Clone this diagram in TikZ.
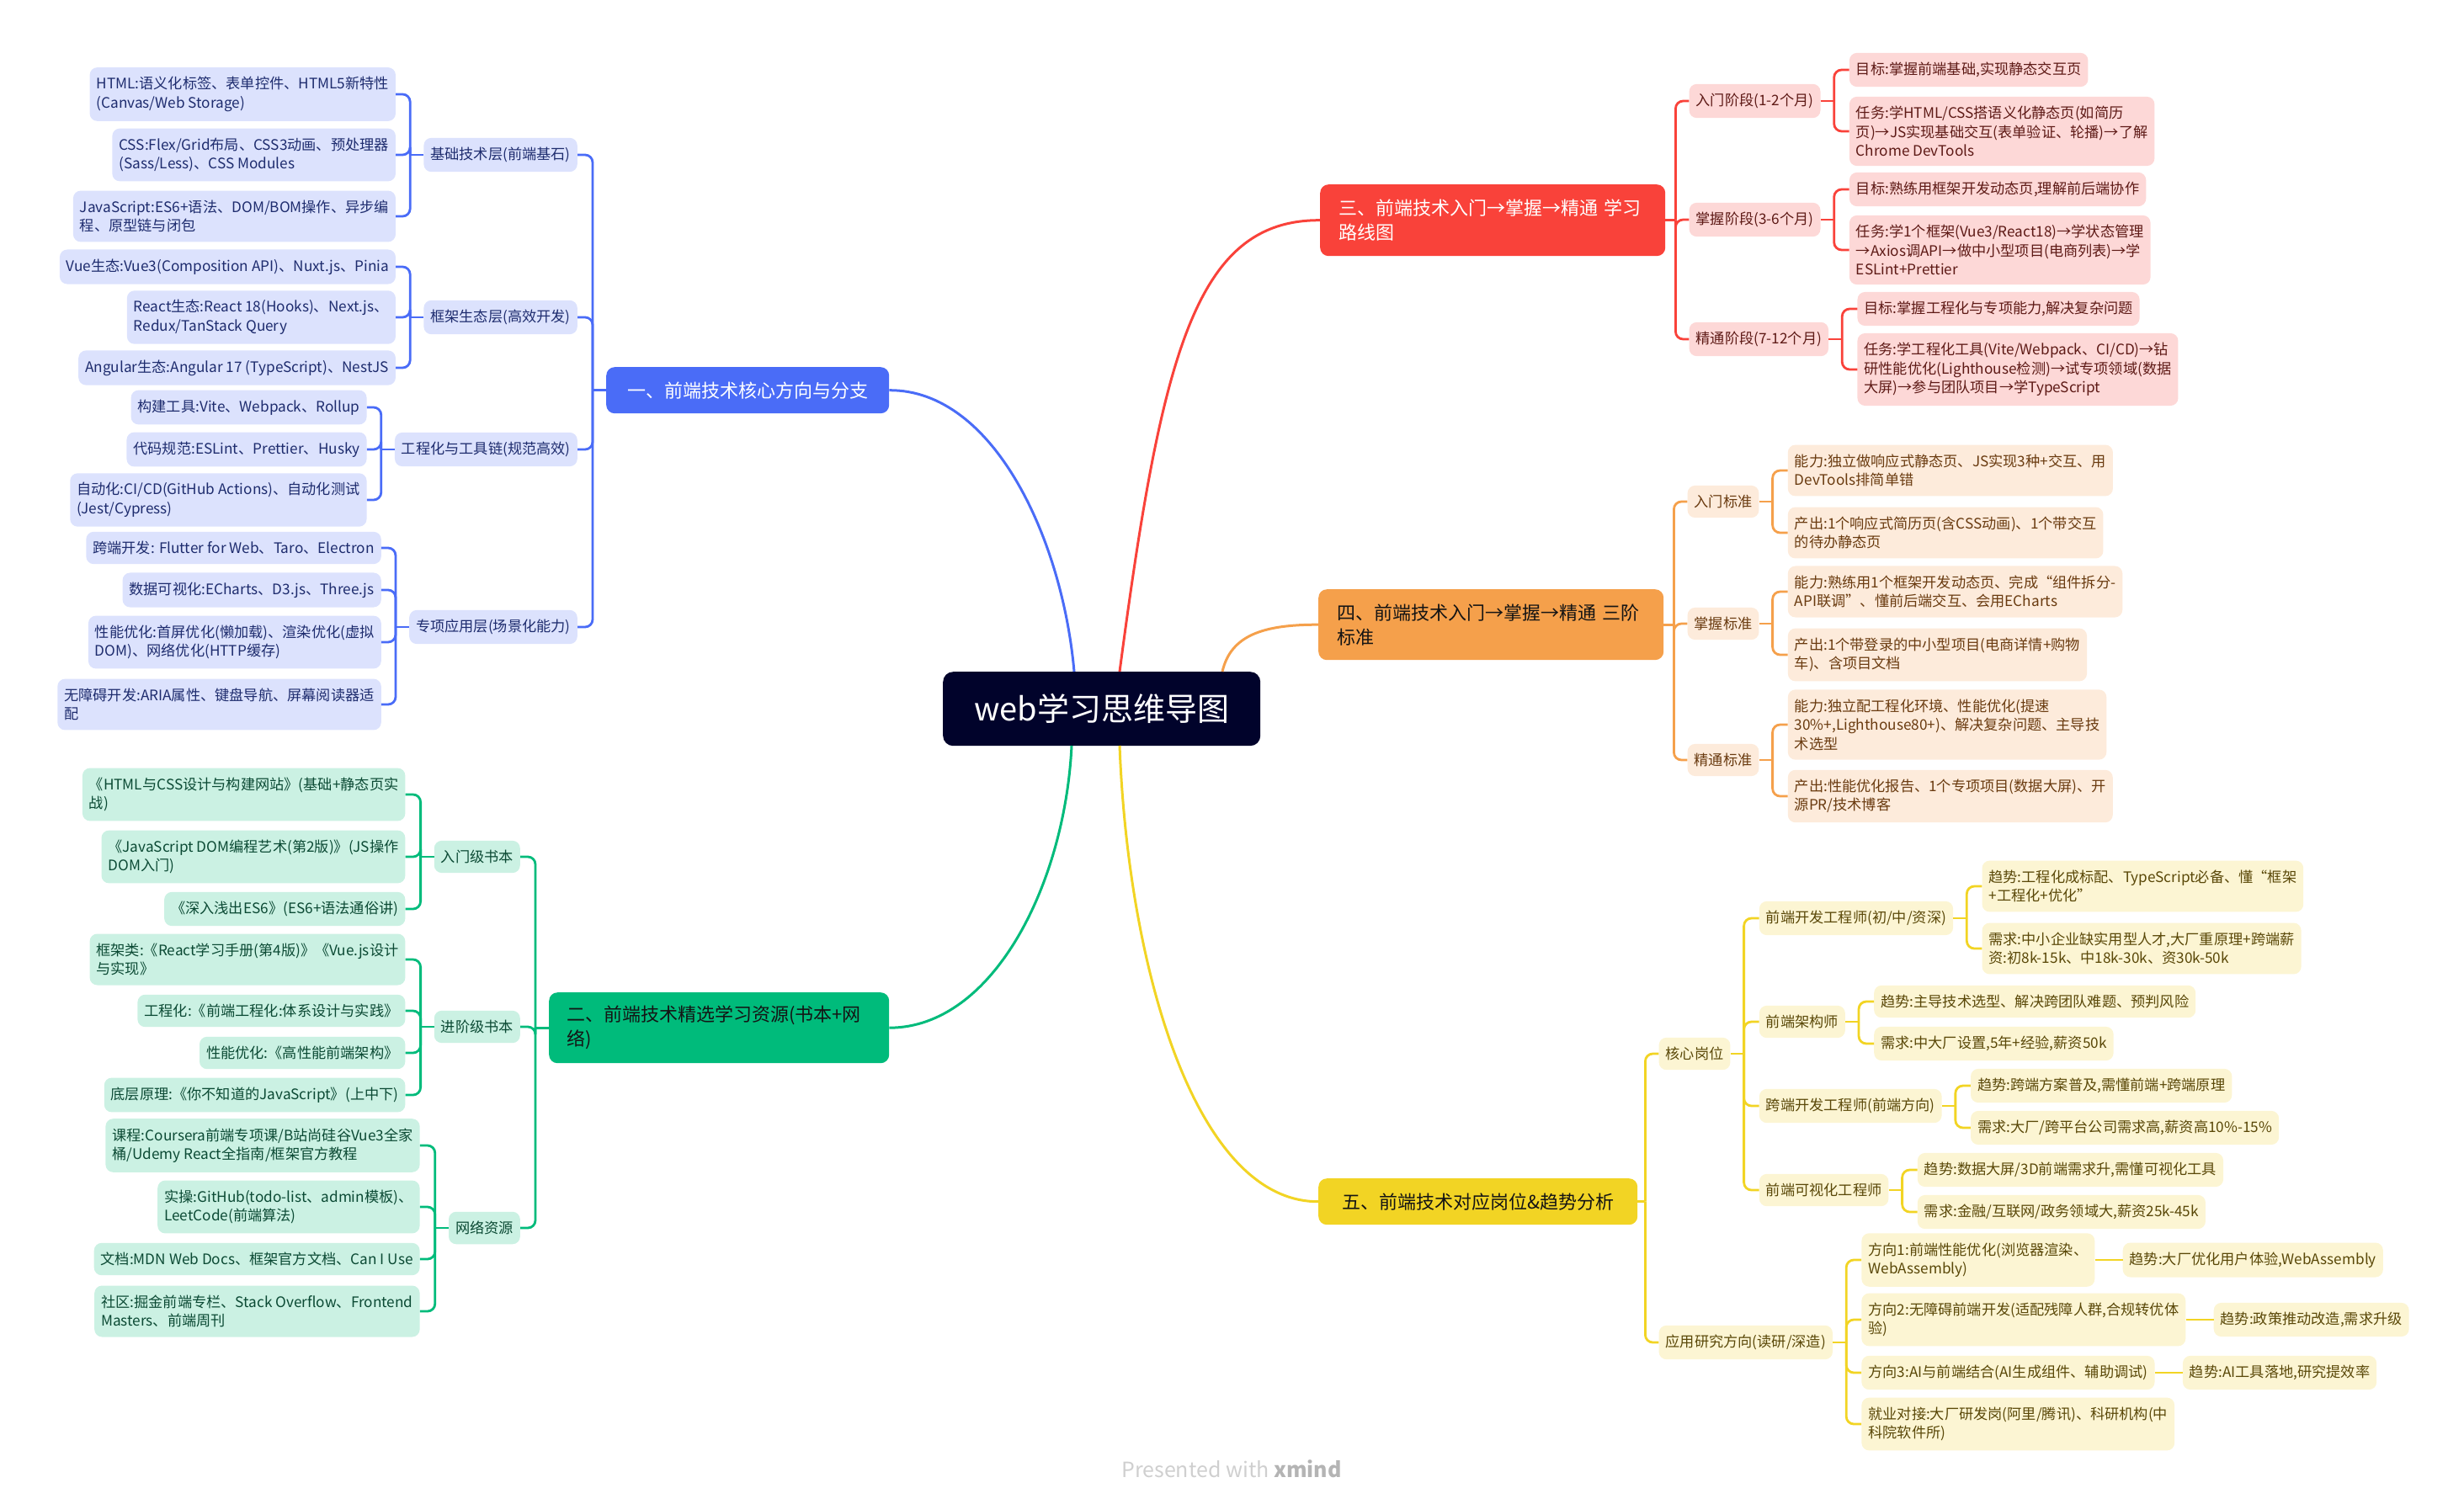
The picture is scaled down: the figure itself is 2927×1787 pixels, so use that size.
\documentclass[tikz,border=0pt]{standalone}
\usepackage{fontspec}
\setmainfont{Noto Sans CJK SC}

\definecolor{navy}{HTML}{01032B}
\definecolor{cblue}{HTML}{4A6CF7}
\definecolor{cgreen}{HTML}{00BB7B}
\definecolor{cred}{HTML}{F9423A}
\definecolor{corange}{HTML}{F5A04B}
\definecolor{cyellow}{HTML}{F2D424}
\definecolor{lblue}{HTML}{DCE2FD}
\definecolor{lgreen}{HTML}{CBF1E3}
\definecolor{lred}{HTML}{FDD8D7}
\definecolor{lorange}{HTML}{FDEBDB}
\definecolor{lyellow}{HTML}{FCF5D3}
\definecolor{tblue}{HTML}{1E2C6E}
\definecolor{tgreen}{HTML}{0B4A34}
\definecolor{tred}{HTML}{5E1A16}
\definecolor{torange}{HTML}{6A3B10}
\definecolor{tyellow}{HTML}{5A4808}
\definecolor{tmain}{HTML}{141414}
\definecolor{wmlight}{HTML}{CFCFCF}
\definecolor{wmdark}{HTML}{B4B4B4}

\begin{document}
\begin{tikzpicture}[x=1pt, y=-1pt,
  topic/.style={rounded corners=9pt, inner xsep=8pt, inner ysep=11.2pt, align=left, font=\fontsize{17.2}{22.5}\selectfont},
  bluetopic/.style={topic, fill=lblue, text=tblue, anchor=east},
  greentopic/.style={topic, fill=lgreen, text=tgreen, anchor=east},
  redtopic/.style={topic, fill=lred, text=tred, anchor=west},
  orangetopic/.style={topic, fill=lorange, text=torange, anchor=west},
  yellowtopic/.style={topic, fill=lyellow, text=tyellow, anchor=west},
  mainbox/.style={rounded corners=10pt, inner sep=0pt, anchor=north west, font=\fontsize{22}{29}\selectfont},
  linkline/.style={line width=2.8pt, rounded corners=9pt},
  curveline/.style={line width=3pt},
]

% Bounding box
\useasboundingbox (0,0) rectangle (2927,1787);

% Centre topic
\node[fill=navy, text=white, rounded corners=12pt, minimum width=377pt, minimum height=88pt, anchor=north west, font=\fontsize{38}{44}\selectfont] (web) at (1120,798) {web学习思维导图};
\coordinate (web-b) at (1276,798);
\coordinate (web-r) at (1330,798);
\coordinate (web-o) at (1452,798);
\coordinate (web-g) at (1273,886);
\coordinate (web-y) at (1330,886);

% Main topics
\node[mainbox, fill=cblue, text=white, minimum width=336pt, minimum height=55pt] (core) at (720,436) {一、前端技术核心方向与分支};
\node[mainbox, fill=cgreen, text=tmain, minimum width=404pt, minimum height=84pt, text width=362pt, align=left] (res) at (652,1179) {二、前端技术精选学习资源(书本+网\\络)};
\node[mainbox, fill=cred, text=white, minimum width=410pt, minimum height=85pt, text width=366pt, align=left] (route) at (1568,219) {三、前端技术入门→掌握→精通~学习\\路线图};
\node[mainbox, fill=corange, text=tmain, minimum width=410pt, minimum height=84pt, text width=366pt, align=left] (std) at (1566,700) {四、前端技术入门→掌握→精通~三阶\\标准};
\node[mainbox, fill=cyellow, text=tmain, minimum width=379pt, minimum height=55pt] (job) at (1566,1400) {五、前端技术对应岗位\&趋势分析};

% Curves from the centre
\draw[curveline, cblue] (web-b) .. controls (1262,640) and (1180,463) .. (core.east);
\draw[curveline, cred] (web-r) .. controls (1380,420) and (1420,261) .. (route.west);
\draw[curveline, corange] (web-o) .. controls (1462,755) and (1500,742) .. (std.west);
\draw[curveline, cgreen] (web-g) .. controls (1265,1050) and (1180,1221) .. (res.east);
\draw[curveline, cyellow] (web-y) .. controls (1340,1150) and (1420,1428) .. (job.west);

% Blue branch
\path (core.west) ++(-16,0) coordinate (core-t) ++(-18,0) coordinate (core-l);
\node[bluetopic] (core-base) at (core-l |- 0,184) {基础技术层(前端基石)};
\node[bluetopic] (core-frame) at (core-l |- 0,377) {框架生态层(高效开发)};
\node[bluetopic] (core-eng) at (core-l |- 0,534) {工程化与工具链(规范高效)};
\node[bluetopic] (core-app) at (core-l |- 0,745) {专项应用层(场景化能力)};
\foreach \nd in {core-base,core-frame,core-eng,core-app}
  \path (\nd.west) ++(-16,0) coordinate (\nd-t) ++(-17,0) coordinate (\nd-l);

\node[bluetopic] (base1) at (core-base-l |- 0,112) {HTML:语义化标签、表单控件、HTML5新特性\\(Canvas/Web Storage)};
\node[bluetopic] (base2) at (core-base-l |- 0,184) {CSS:Flex/Grid布局、CSS3动画、预处理器\\(Sass/Less)、CSS Modules};
\node[bluetopic] (base3) at (core-base-l |- 0,257) {JavaScript:ES6+语法、DOM/BOM操作、异步编\\程、原型链与闭包};
\node[bluetopic] (frame1) at (core-frame-l |- 0,317) {Vue生态:Vue3(Composition API)、Nuxt.js、Pinia};
\node[bluetopic] (frame2) at (core-frame-l |- 0,377) {React生态:React 18(Hooks)、Next.js、\\Redux/TanStack Query};
\node[bluetopic] (frame3) at (core-frame-l |- 0,437) {Angular生态:Angular 17 (TypeScript)、NestJS};
\node[bluetopic] (eng1) at (core-eng-l |- 0,484) {构建工具:Vite、Webpack、Rollup};
\node[bluetopic] (eng2) at (core-eng-l |- 0,534) {代码规范:ESLint、Prettier、Husky};
\node[bluetopic] (eng3) at (core-eng-l |- 0,594) {自动化:CI/CD(GitHub Actions)、自动化测试\\(Jest/Cypress)};
\node[bluetopic] (app1) at (core-app-l |- 0,651) {跨端开发: Flutter for Web、Taro、Electron};
\node[bluetopic] (app2) at (core-app-l |- 0,701) {数据可视化:ECharts、D3.js、Three.js};
\node[bluetopic] (app3) at (core-app-l |- 0,763) {性能优化:首屏优化(懒加载)、渲染优化(虚拟\\DOM)、网络优化(HTTP缓存)};
\node[bluetopic] (app4) at (core-app-l |- 0,837) {无障碍开发:ARIA属性、键盘导航、屏幕阅读器适\\配};

\draw[linkline, cblue] (core.west) -- (core-t);
\foreach \nd in {core-base,core-frame,core-eng,core-app}
  \draw[linkline, cblue] (core-t) |- (\nd.east);
\foreach \nd/\kids in {core-base/{base1,base2,base3}, core-frame/{frame1,frame2,frame3}, core-eng/{eng1,eng2,eng3}, core-app/{app1,app2,app3,app4}} {
  \draw[linkline, cblue] (\nd.west) -- (\nd-t);
  \foreach \kd in \kids
    \draw[linkline, cblue] (\nd-t) |- (\kd.east);
}

% Green branch
\path (res.west) ++(-16,0) coordinate (res-t) ++(-18,0) coordinate (res-l);
\node[greentopic] (res-intro) at (res-l |- 0,1018) {入门级书本};
\node[greentopic] (res-adv) at (res-l |- 0,1220) {进阶级书本};
\node[greentopic] (res-net) at (res-l |- 0,1459) {网络资源};
\foreach \nd in {res-intro,res-adv,res-net}
  \path (\nd.west) ++(-16,0) coordinate (\nd-t) ++(-18,0) coordinate (\nd-l);

\node[greentopic] (book1) at (res-intro-l |- 0,944) {《HTML与CSS设计与构建网站》(基础+静态页实\\战)};
\node[greentopic] (book2) at (res-intro-l |- 0,1018) {《JavaScript DOM编程艺术(第2版)》(JS操作\\DOM入门)};
\node[greentopic] (book3) at (res-intro-l |- 0,1080) {《深入浅出ES6》(ES6+语法通俗讲)};
\node[greentopic] (adv1) at (res-adv-l |- 0,1140) {框架类:《React学习手册(第4版)》《Vue.js设计\\与实现》};
\node[greentopic] (adv2) at (res-adv-l |- 0,1201) {工程化:《前端工程化:体系设计与实践》};
\node[greentopic] (adv3) at (res-adv-l |- 0,1251) {性能优化:《高性能前端架构》};
\node[greentopic] (adv4) at (res-adv-l |- 0,1301) {底层原理:《你不知道的JavaScript》(上中下)};
\node[greentopic] (net1) at (res-net-l |- 0,1361) {课程:Coursera前端专项课/B站尚硅谷Vue3全家\\桶/Udemy React全指南/框架官方教程};
\node[greentopic] (net2) at (res-net-l |- 0,1434) {实操:GitHub(todo-list、admin模板)、\\LeetCode(前端算法)};
\node[greentopic] (net3) at (res-net-l |- 0,1496) {文档:MDN Web Docs、框架官方文档、Can I Use};
\node[greentopic] (net4) at (res-net-l |- 0,1558) {社区:掘金前端专栏、Stack Overflow、Frontend\\Masters、前端周刊};

\draw[linkline, cgreen] (res.west) -- (res-t);
\foreach \nd in {res-intro,res-adv,res-net}
  \draw[linkline, cgreen] (res-t) |- (\nd.east);
\foreach \nd/\kids in {res-intro/{book1,book2,book3}, res-adv/{adv1,adv2,adv3,adv4}, res-net/{net1,net2,net3,net4}} {
  \draw[linkline, cgreen] (\nd.west) -- (\nd-t);
  \foreach \kd in \kids
    \draw[linkline, cgreen] (\nd-t) |- (\kd.east);
}

% Red branch
\path (route.east) ++(12,0) coordinate (route-t) ++(16,0) coordinate (route-l);
\node[redtopic] (route-a) at (route-l |- 0,120) {入门阶段(1-2个月)};
\node[redtopic] (route-b) at (route-l |- 0,261) {掌握阶段(3-6个月)};
\node[redtopic] (route-c) at (route-l |- 0,403) {精通阶段(7-12个月)};
\foreach \nd in {route-a,route-b,route-c}
  \path (\nd.east) ++(16,0) coordinate (\nd-t) ++(18,0) coordinate (\nd-l);

\node[redtopic] (goal1) at (route-a-l |- 0,83) {目标:掌握前端基础,实现静态交互页};
\node[redtopic] (task1) at (route-a-l |- 0,156) {任务:学HTML/CSS搭语义化静态页(如简历\\页)→JS实现基础交互(表单验证、轮播)→了解\\Chrome DevTools};
\node[redtopic] (goal2) at (route-b-l |- 0,225) {目标:熟练用框架开发动态页,理解前后端协作};
\node[redtopic] (task2) at (route-b-l |- 0,297) {任务:学1个框架(Vue3/React18)→学状态管理\\→Axios调API→做中小型项目(电商列表)→学\\ESLint+Prettier};
\node[redtopic] (goal3) at (route-c-l |- 0,367) {目标:掌握工程化与专项能力,解决复杂问题};
\node[redtopic] (task3) at (route-c-l |- 0,439) {任务:学工程化工具(Vite/Webpack、CI/CD)→钻\\研性能优化(Lighthouse检测)→试专项领域(数据\\大屏)→参与团队项目→学TypeScript};

\draw[linkline, cred] (route.east) -- (route-t);
\foreach \nd in {route-a,route-b,route-c}
  \draw[linkline, cred] (route-t) |- (\nd.west);
\foreach \nd/\kids in {route-a/{goal1,task1}, route-b/{goal2,task2}, route-c/{goal3,task3}} {
  \draw[linkline, cred] (\nd.east) -- (\nd-t);
  \foreach \kd in \kids
    \draw[linkline, cred] (\nd-t) |- (\kd.west);
}

% Orange branch
\path (std.east) ++(12,0) coordinate (std-t) ++(16,0) coordinate (std-l);
\node[orangetopic] (std-a) at (std-l |- 0,596) {入门标准};
\node[orangetopic] (std-b) at (std-l |- 0,741) {掌握标准};
\node[orangetopic] (std-c) at (std-l |- 0,903) {精通标准};
\foreach \nd in {std-a,std-b,std-c}
  \path (\nd.east) ++(16,0) coordinate (\nd-t) ++(18,0) coordinate (\nd-l);

\node[orangetopic] (able1) at (std-a-l |- 0,559) {能力:独立做响应式静态页、JS实现3种+交互、用\\DevTools排简单错};
\node[orangetopic] (out1) at (std-a-l |- 0,633) {产出:1个响应式简历页(含CSS动画)、1个带交互\\的待办静态页};
\node[orangetopic] (able2) at (std-b-l |- 0,703) {能力:熟练用1个框架开发动态页、完成“组件拆分-\\API联调”、懂前后端交互、会用ECharts};
\node[orangetopic] (out2) at (std-b-l |- 0,778) {产出:1个带登录的中小型项目(电商详情+购物\\车)、含项目文档};
\node[orangetopic] (able3) at (std-c-l |- 0,861) {能力:独立配工程化环境、性能优化(提速\\30\%+,Lighthouse80+)、解决复杂问题、主导技\\术选型};
\node[orangetopic] (out3) at (std-c-l |- 0,946) {产出:性能优化报告、1个专项项目(数据大屏)、开\\源PR/技术博客};

\draw[linkline, corange] (std.east) -- (std-t);
\foreach \nd in {std-a,std-b,std-c}
  \draw[linkline, corange] (std-t) |- (\nd.west);
\foreach \nd/\kids in {std-a/{able1,out1}, std-b/{able2,out2}, std-c/{able3,out3}} {
  \draw[linkline, corange] (\nd.east) -- (\nd-t);
  \foreach \kd in \kids
    \draw[linkline, corange] (\nd-t) |- (\kd.west);
}

% Yellow branch
\path (job.east) ++(9,0) coordinate (job-t) ++(16,0) coordinate (job-l);
\node[yellowtopic] (job-core) at (job-l |- 0,1252) {核心岗位};
\node[yellowtopic] (job-study) at (job-l |- 0,1595) {应用研究方向(读研/深造)};
\foreach \nd in {job-core,job-study}
  \path (\nd.east) ++(16,0) coordinate (\nd-t) ++(18,0) coordinate (\nd-l);

\node[yellowtopic] (job-fe) at (job-core-l |- 0,1091) {前端开发工程师(初/中/资深)};
\node[yellowtopic] (job-arch) at (job-core-l |- 0,1214) {前端架构师};
\node[yellowtopic] (job-cross) at (job-core-l |- 0,1314) {跨端开发工程师(前端方向)};
\node[yellowtopic] (job-vis) at (job-core-l |- 0,1414) {前端可视化工程师};
\foreach \nd in {job-fe,job-arch,job-cross,job-vis}
  \path (\nd.east) ++(16,0) coordinate (\nd-t) ++(18,0) coordinate (\nd-l);

\node[yellowtopic] (fe1) at (job-fe-l |- 0,1053) {趋势:工程化成标配、TypeScript必备、懂“框架\\+工程化+优化”};
\node[yellowtopic] (fe2) at (job-fe-l |- 0,1127) {需求:中小企业缺实用型人才,大厂重原理+跨端薪\\资:初8k-15k、中18k-30k、资30k-50k};
\node[yellowtopic] (arch1) at (job-arch-l |- 0,1190) {趋势:主导技术选型、解决跨团队难题、预判风险};
\node[yellowtopic] (arch2) at (job-arch-l |- 0,1240) {需求:中大厂设置,5年+经验,薪资50k};
\node[yellowtopic] (cross1) at (job-cross-l |- 0,1290) {趋势:跨端方案普及,需懂前端+跨端原理};
\node[yellowtopic] (cross2) at (job-cross-l |- 0,1340) {需求:大厂/跨平台公司需求高,薪资高10\%-15\%};
\node[yellowtopic] (vis1) at (job-vis-l |- 0,1390) {趋势:数据大屏/3D前端需求升,需懂可视化工具};
\node[yellowtopic] (vis2) at (job-vis-l |- 0,1440) {需求:金融/互联网/政务领域大,薪资25k-45k};

\node[yellowtopic] (dir1) at (job-study-l |- 0,1497) {方向1:前端性能优化(浏览器渲染、\\WebAssembly)};
\node[yellowtopic] (dir2) at (job-study-l |- 0,1568) {方向2:无障碍前端开发(适配残障人群,合规转优体\\验)};
\node[yellowtopic] (dir3) at (job-study-l |- 0,1631) {方向3:AI与前端结合(AI生成组件、辅助调试)};
\node[yellowtopic] (dir4) at (job-study-l |- 0,1692) {就业对接:大厂研发岗(阿里/腾讯)、科研机构(中\\科院软件所)};
\node[yellowtopic] (trend1) at ([xshift=33pt]dir1.east) {趋势:大厂优化用户体验,WebAssembly};
\node[yellowtopic] (trend2) at ([xshift=33pt]dir2.east) {趋势:政策推动改造,需求升级};
\node[yellowtopic] (trend3) at ([xshift=33pt]dir3.east) {趋势:AI工具落地,研究提效率};

\draw[linkline, cyellow] (job.east) -- (job-t);
\foreach \nd in {job-core,job-study}
  \draw[linkline, cyellow] (job-t) |- (\nd.west);
\foreach \nd/\kids in {job-core/{job-fe,job-arch,job-cross,job-vis}, job-study/{dir1,dir2,dir3,dir4}, job-fe/{fe1,fe2}, job-arch/{arch1,arch2}, job-cross/{cross1,cross2}, job-vis/{vis1,vis2}} {
  \draw[linkline, cyellow] (\nd.east) -- (\nd-t);
  \foreach \kd in \kids
    \draw[linkline, cyellow] (\nd-t) |- (\kd.west);
}
\foreach \nd/\kd in {dir1/trend1, dir2/trend2, dir3/trend3}
  \draw[linkline, cyellow] (\nd.east) -- (\kd.west);

% Watermark
\node[font=\fontsize{25}{30}\selectfont] (mark) at (1463,1745) {\textcolor{wmlight}{Presented with} \textcolor{wmdark}{\bfseries xmind}};

\end{tikzpicture}
\end{document}
